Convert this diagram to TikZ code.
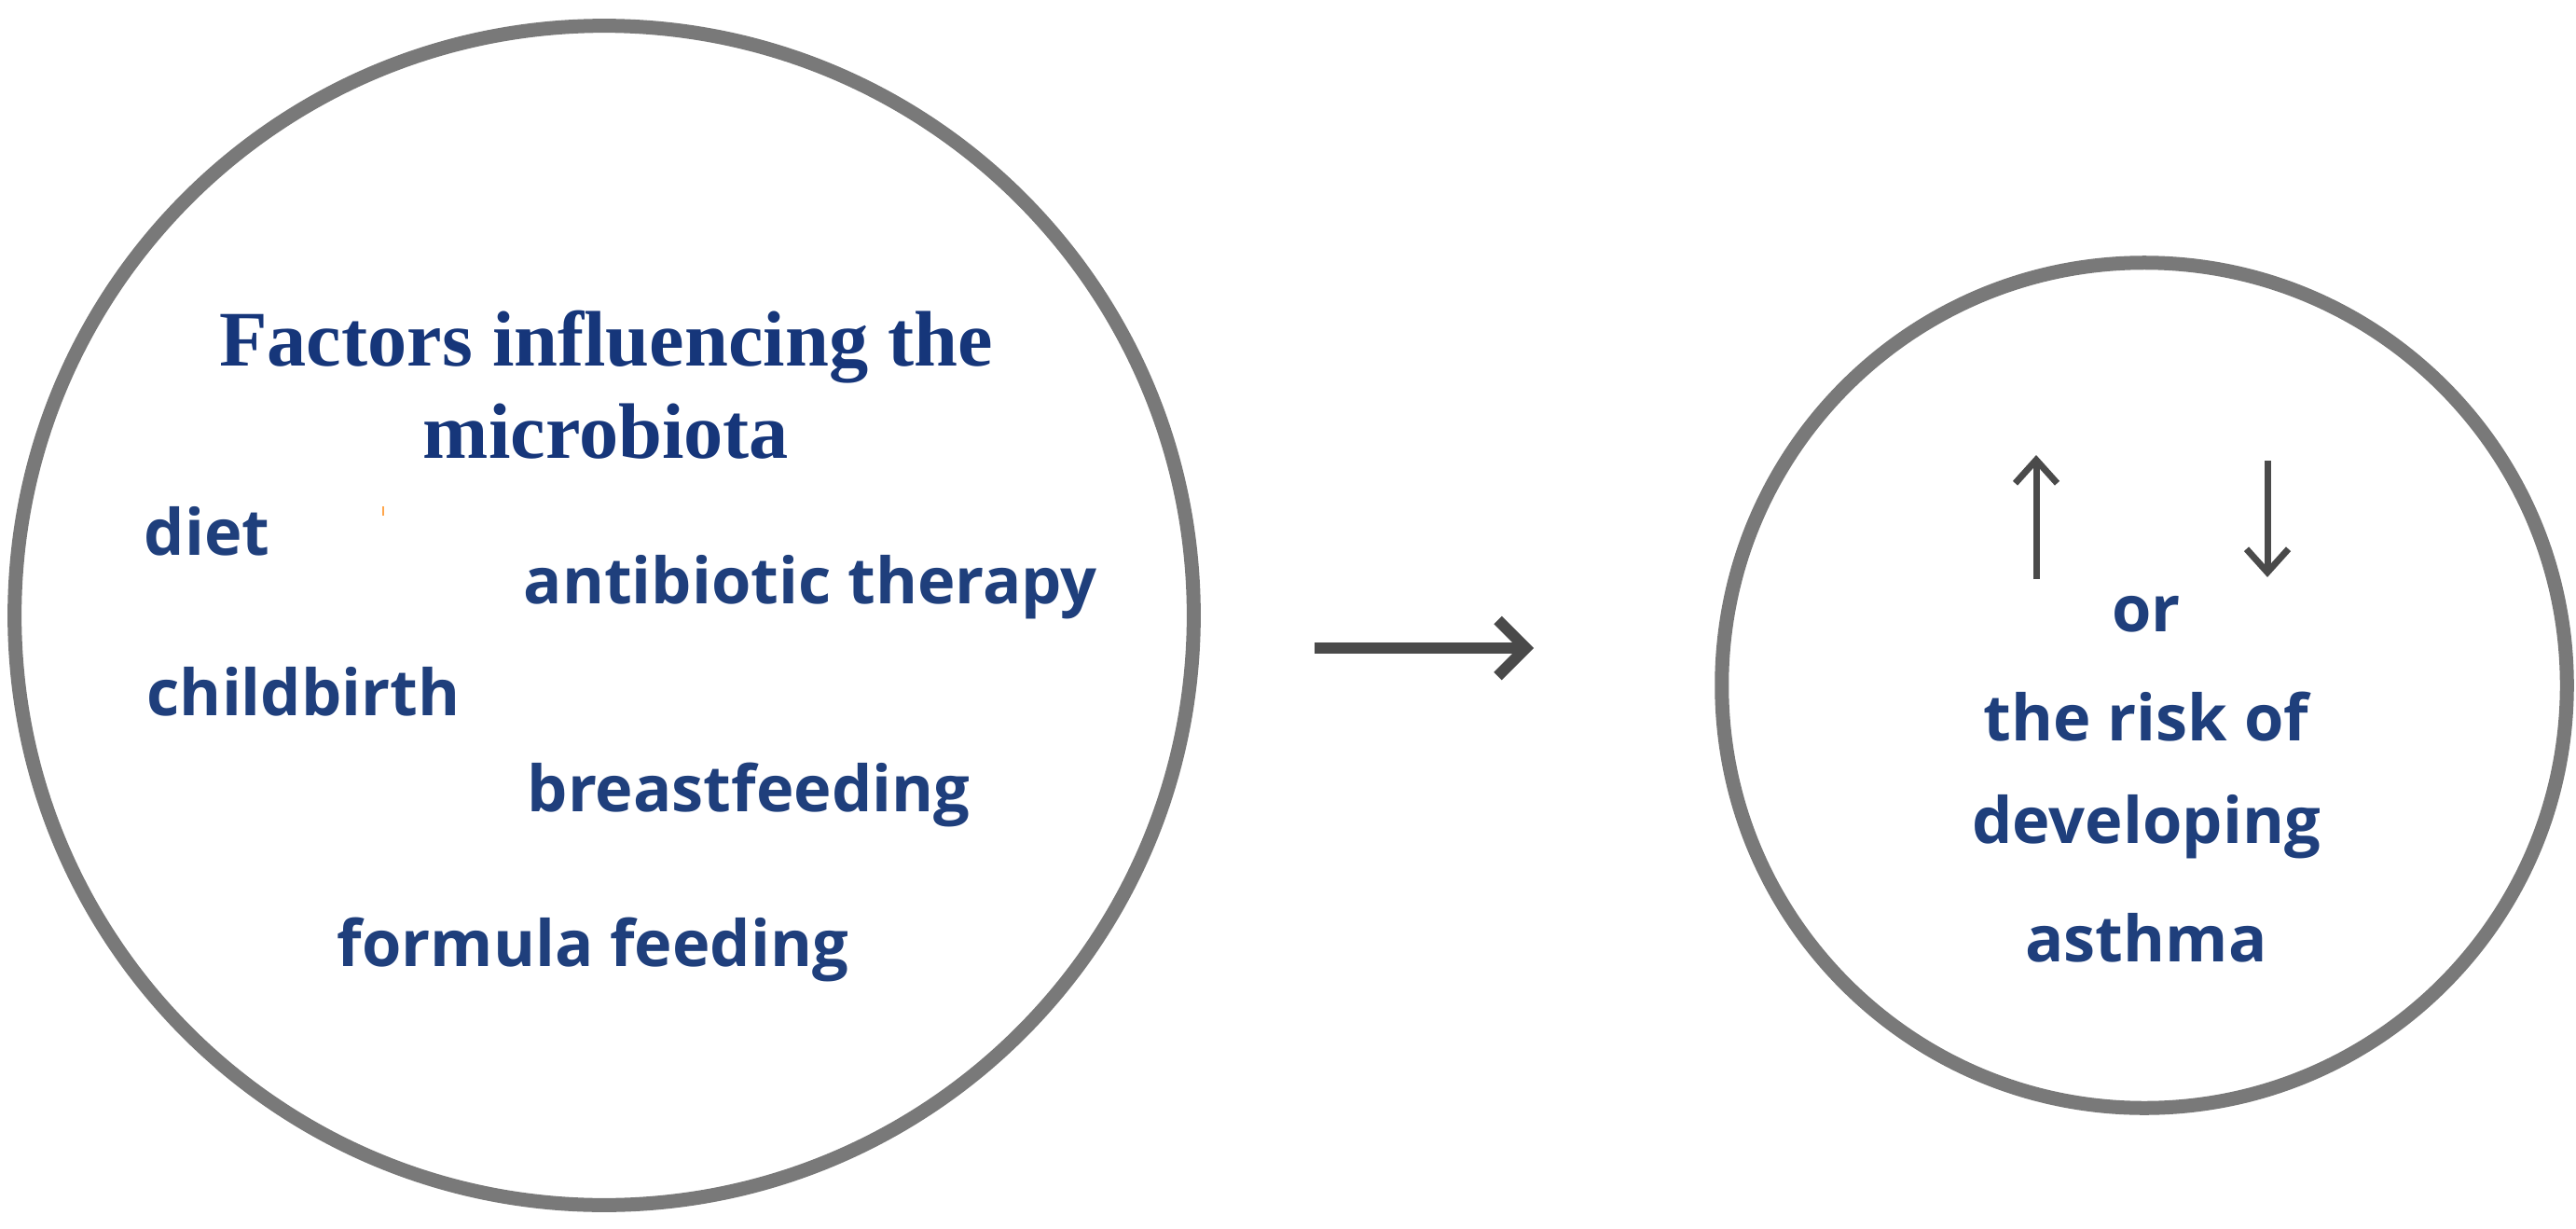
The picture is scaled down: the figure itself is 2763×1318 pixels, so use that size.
\documentclass[tikz,border=0pt]{standalone}
\usepackage{fontspec}
\setmainfont{Open Sans}
\newfontfamily\tms{Liberation Serif}
\begin{document}
\begin{tikzpicture}[x=0.01cm,y=-0.01cm,
  circ/.style={draw=gray!95!black,line width=0.15cm,circle,inner sep=0},
  lbl/.style={text=txtblue,font=\fontsize{19.5}{22}\selectfont\bfseries,inner sep=0},
  ttl/.style={text=titblue,font=\tms\fontsize{24}{26}\selectfont\bfseries,inner sep=0},
  arr/.style={draw=arrgray,line width=0.12cm,-{Straight Barb[length=0.3cm,width=0.6cm,line width=0.12cm]}},
  sarr/.style={draw=arrgray,line width=0.07cm,-{Straight Barb[length=0.25cm,width=0.45cm,line width=0.07cm]}}]
\definecolor{txtblue}{HTML}{1F3F7C}
\definecolor{titblue}{HTML}{16367A}
\definecolor{arrgray}{HTML}{4A4A4A}
\usetikzlibrary{arrows.meta}
\useasboundingbox (0,0) rectangle (2763,1318);
\node[circ,minimum size=12.64cm] (L) at (648,660) {};
\node[circ,minimum size=9.06cm] (R) at (2300,735) {};
\node[ttl] (t1) at (650,372) {Factors influencing the};
\node[ttl] (t2) at (650,463) {microbiota};
\node[lbl,anchor=west] (diet) at (154,570) {diet};
\node[lbl,anchor=west] (ab) at (561,630) {antibiotic therapy};
\node[lbl,anchor=west] (cb) at (157,742) {childbirth};
\node[lbl,anchor=west] (bf) at (565,852) {breastfeeding};
\node[lbl,anchor=west] (ff) at (361,1018) {formula feeding};
\node[lbl] (or) at (2302,659) {or};
\node[lbl] (r1) at (2302,769) {the risk of};
\node[lbl] (r2) at (2302,887) {developing};
\node[lbl] (r3) at (2302,1006) {asthma};
\coordinate (a1) at (1410,695); \coordinate (a2) at (1645,695);
\draw[arr] (a1) -- (a2);
\coordinate (u1) at (2184,621); \coordinate (u2) at (2184,488);
\draw[sarr] (u1) -- (u2);
\coordinate (d1) at (2432,494); \coordinate (d2) at (2432,619);
\draw[sarr] (d1) -- (d2);
\draw[orange!70,line width=0.02cm] (411,543) -- (411,553);
\end{tikzpicture}
\end{document}
